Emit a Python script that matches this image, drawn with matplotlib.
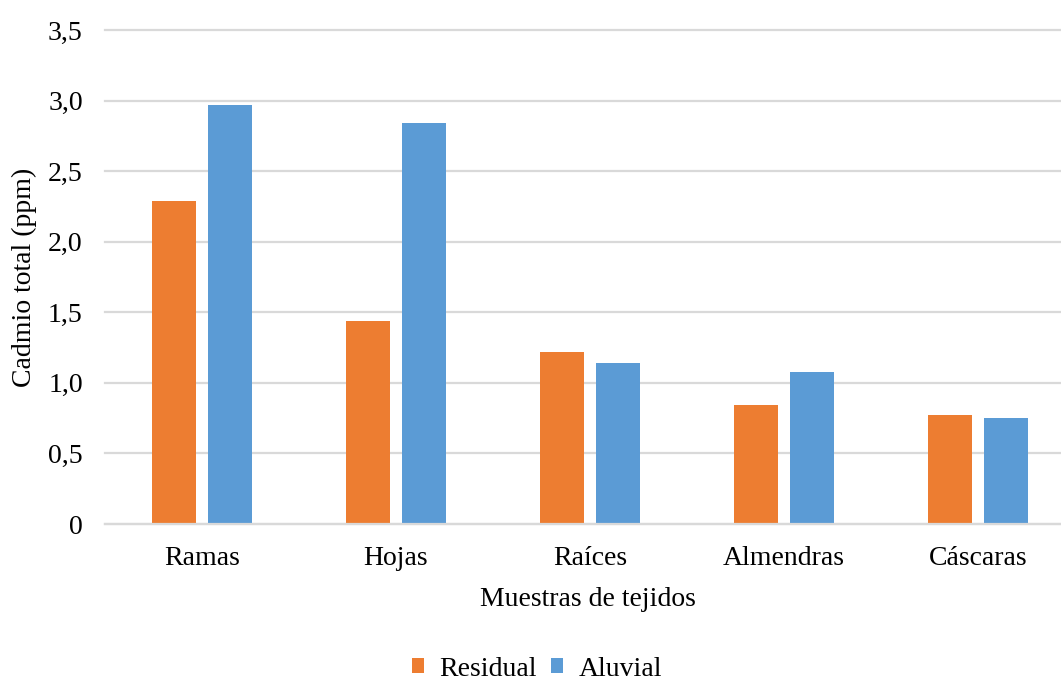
import matplotlib.pyplot as plt
import numpy as np

categorias = ["Ramas", "Hojas", "Raíces", "Almendras", "Cáscaras"]
residual = [2.29, 1.44, 1.22, 0.84, 0.77]
aluvial = [2.97, 2.84, 1.14, 1.08, 0.75]
y_ticks = [0, 0.5, 1.0, 1.5, 2.0, 2.5, 3.0, 3.5]
y_labels = ["0", "0,5", "1,0", "1,5", "2,0", "2,5", "3,0", "3,5"]

plt.rcParams["font.family"] = ["Liberation Serif", "DejaVu Serif"]
fs = 20

fig = plt.figure(figsize=(10.61, 6.82), dpi=100)
# plot area runs past the right edge, like the original
ax = fig.add_axes([105 / 1061, 1 - 524 / 682, 970 / 1061, 494 / 682])

x = np.arange(len(categorias))
ancho = 0.227
desp = 0.142
ax.bar(x - desp, residual, ancho, color="#ED7D31", label="Residual", zorder=3)
ax.bar(x + desp, aluvial, ancho, color="#5B9BD5", label="Aluvial", zorder=3)

ax.set_xlim(-0.5, len(categorias) - 0.5)
ax.set_ylim(0, 3.5)
ax.set_yticks(y_ticks)
ax.set_yticklabels(y_labels)
ax.set_xticks(x)
ax.set_xticklabels(categorias)

ax.yaxis.grid(True, color="#D9D9D9", linewidth=1.6, zorder=0)
for gl in ax.get_ygridlines():
    gl.set_clip_on(False)
for s in ["top", "right", "left"]:
    ax.spines[s].set_visible(False)
ax.spines["bottom"].set_color("#D9D9D9")
ax.spines["bottom"].set_linewidth(1.6)
ax.spines["bottom"].set_zorder(4)
ax.tick_params(axis="both", length=0, labelsize=fs, colors="black")
ax.tick_params(axis="y", pad=16)
ax.tick_params(axis="x", pad=16)

fig.text(24 / 1061, 1 - 277 / 682, "Cadmio total (ppm)", rotation=90,
         ha="center", va="center", fontsize=fs)
fig.text(588 / 1061, 1 - 600 / 682, "Muestras de tejidos",
         ha="center", va="center", fontsize=fs)

fig.legend(loc="center", bbox_to_anchor=(537 / 1061, 1 - 669 / 682), ncol=2,
           frameon=False, fontsize=fs, handlelength=0.45, handleheight=0.45,
           handletextpad=0.55, columnspacing=0.5)

fig.savefig("out.png", dpi=100)
